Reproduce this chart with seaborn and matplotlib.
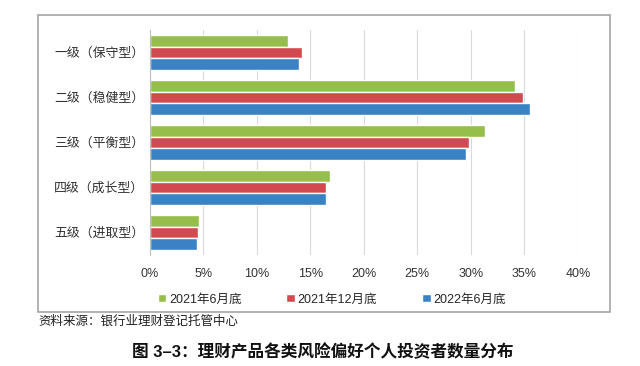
import pandas as pd
import seaborn as sns
import matplotlib.pyplot as plt
from matplotlib.patches import Rectangle
from matplotlib.ticker import FuncFormatter

categories = ["一级（保守型）", "二级（稳健型）", "三级（平衡型）", "四级（成长型）", "五级（进取型）"]
periods = ["2021年6月底", "2021年12月底", "2022年6月底"]
jun_2021 = [12.9, 34.1, 31.3, 16.8, 4.6]
dec_2021 = [14.2, 34.9, 29.8, 16.5, 4.5]
jun_2022 = [13.9, 35.5, 29.5, 16.5, 4.4]
colors = ["#96BE4A", "#D04A4F", "#3B82C4"]

df = pd.DataFrame({
    "cat": categories * 3,
    "period": [periods[0]] * 5 + [periods[1]] * 5 + [periods[2]] * 5,
    "value": jun_2021 + dec_2021 + jun_2022,
})

sns.set_style("white")
plt.rcParams['font.family'] = ['Liberation Sans', 'Noto Sans CJK SC', 'DejaVu Sans']

fig = plt.figure(figsize=(6.4, 3.66), dpi=100)
ax = fig.add_axes([0.234, 0.303, 0.669, 0.615])

sns.barplot(data=df, x="value", y="cat", hue="period", hue_order=periods,
            palette=colors, width=0.76, saturation=1, ax=ax, legend=True)

ax.set_xlim(0, 40)
ax.set_xticks(range(0, 41, 5))
ax.xaxis.set_major_formatter(FuncFormatter(lambda v, p: f"{v:.0f}%"))
ax.grid(axis="x", color="#D9D9D9", linewidth=0.8)
ax.set_axisbelow(True)
for s in ["top", "right", "bottom"]:
    ax.spines[s].set_visible(False)
ax.spines["left"].set_color("#BFBFBF")
ax.set_xlabel("")
ax.set_ylabel("")
ax.tick_params(axis="x", length=0, labelsize=9, colors="#333333", pad=9)
ax.tick_params(axis="y", length=0, labelsize=9.3, colors="#333333", pad=4)
ax.set_yticks([i - 0.5 for i in range(6)], minor=True)
ax.tick_params(axis="y", which="minor", length=4, color="#BFBFBF")
ax.set_ylim(4.5, -0.5)

ax.legend(loc="upper center", bbox_to_anchor=(0.425, -0.12), ncol=3, frameon=False,
          fontsize=9, handlelength=0.7, handleheight=0.7, handletextpad=0.2,
          columnspacing=3.6)

fig.patches.append(Rectangle((38 / 640, 1 - 312 / 366), 572 / 640, 297 / 366,
                             transform=fig.transFigure, fill=False,
                             edgecolor="#A6A6A6", linewidth=1.2))
fig.text(38 / 640, 1 - 322 / 366, "资料来源：银行业理财登记托管中心", fontsize=9,
         va="center", ha="left", color="#222222")
fig.text(0.505, 1 - 352 / 366, "图 3–3：理财产品各类风险偏好个人投资者数量分布", fontsize=12,
         va="center", ha="center", fontweight="bold", color="#111111")

fig.savefig("out.png", dpi=100)
